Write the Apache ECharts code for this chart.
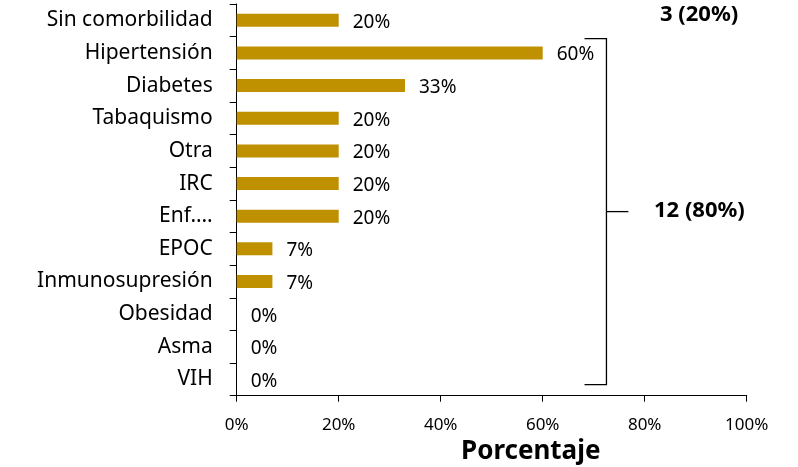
<!DOCTYPE html>
<html>
<head>
<meta charset="utf-8">
<script src="https://cdn.jsdelivr.net/npm/echarts@6/dist/echarts.min.js"></script>
<style>
  html, body { margin: 0; padding: 0; background: #fff; }
  #chart { width: 798px; height: 467px; }
</style>
</head>
<body>
<div id="chart"></div>
<script>
// categorías (de arriba hacia abajo) y porcentajes
const categories = ['Sin comorbilidad', 'Hipertensión', 'Diabetes', 'Tabaquismo', 'Otra', 'IRC', 'Enf.…', 'EPOC', 'Inmunosupresión', 'Obesidad', 'Asma', 'VIH']
const percentages = [20, 60, 33, 20, 20, 20, 20, 7, 7, 0, 0, 0]
const xTicks = [0, 20, 40, 60, 80, 100]
const groupLabels = ['3 (20%)', '12 (80%)']

const chart = echarts.init(document.getElementById('chart'))
const font = 'Noto Sans'

chart.setOption({
  animation: false,
  grid: {
    left: 236.7,
    right: 51.3,
    top: 4,
    bottom: 71.3,
    containLabel: false
  },
  xAxis: {
    type: 'value',
    min: xTicks[0],
    max: xTicks[xTicks.length - 1],
    interval: xTicks[1] - xTicks[0],
    axisLine: { show: true, lineStyle: { color: '#000', width: 1 } },
    axisTick: { show: true, length: 6, lineStyle: { color: '#000' } },
    splitLine: { show: false },
    axisLabel: {
      margin: 21,
      color: '#000',
      fontFamily: font,
      fontSize: 17,
      formatter: '{value}%'
    }
  },
  yAxis: {
    type: 'category',
    inverse: true,
    data: categories,
    axisLine: { show: true, lineStyle: { color: '#000', width: 1 } },
    axisTick: { show: true, length: 7, lineStyle: { color: '#000' } },
    axisLabel: {
      margin: 24,
      color: '#000',
      fontFamily: font,
      fontSize: 21
    }
  },
  series: [{
    type: 'bar',
    data: percentages,
    barWidth: 13,
    itemStyle: { color: '#BF9000' },
    label: {
      show: true,
      position: 'right',
      distance: 14,
      offset: [0, 2],
      color: '#000',
      fontFamily: font,
      fontSize: 19,
      formatter: p => p.value + '%'
    }
  }]
})

// llave que agrupa las comorbilidades
const px = (x, i) => chart.convertToPixel({ gridIndex: 0 }, [x, categories[i]])
const band = px(0, 1)[1] - px(0, 0)[1]
const xBar = px(72.5, 0)[0]
const xIn = px(68.2, 0)[0]
const xOut = px(76.8, 0)[0]
const yTop = px(0, 1)[1] - band * 0.44
const yBot = px(0, categories.length - 1)[1] + band * 0.16
const yMid = (yTop + yBot) / 2
const lineStyle = { stroke: '#000', lineWidth: 1.3 }

chart.setOption({
  graphic: [
    { type: 'polyline', shape: { points: [[xIn, yTop], [xBar, yTop], [xBar, yBot], [xIn, yBot]] }, style: Object.assign({ fill: null }, lineStyle) },
    { type: 'line', shape: { x1: xBar, y1: yMid, x2: xOut, y2: yMid }, style: lineStyle },
    {
      type: 'text',
      left: 654,
      top: yMid - 12,
      style: { text: groupLabels[1], fill: '#000', font: 'bold 22px "Noto Sans"' }
    },
    {
      type: 'text',
      left: 660,
      top: px(0, 0)[1] - 17,
      style: { text: groupLabels[0], fill: '#000', font: 'bold 22px "Noto Sans"' }
    },
    {
      type: 'text',
      left: 461,
      top: 439,
      style: { text: 'Porcentaje', fill: '#000', font: 'bold 26px "Noto Sans"' }
    }
  ]
})
</script>
</body>
</html>
